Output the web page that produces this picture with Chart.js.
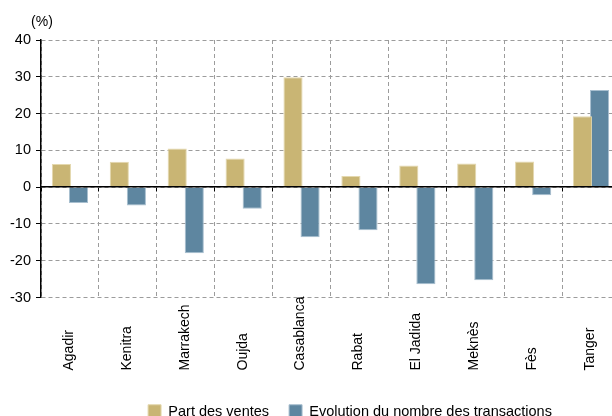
<!DOCTYPE html>
<html>
<head>
<meta charset="utf-8">
<script src="https://cdn.jsdelivr.net/npm/chart.js@4/dist/chart.umd.min.js"></script>
<style>
  html, body { margin: 0; padding: 0; background: #fff; overflow: hidden; }
</style>
</head>
<body>
<canvas id="chart" width="620" height="416"></canvas>
<script>
const cities = ['Agadir', 'Kenitra', 'Marrakech', 'Oujda', 'Casablanca', 'Rabat', 'El Jadida', 'Meknès', 'Fès', 'Tanger'];
const partVentes = [6.3, 6.9, 10.5, 7.8, 29.9, 3.0, 5.9, 6.4, 7.0, 19.3];
const evolTransactions = [-4.3, -5.0, -18.0, -5.9, -13.6, -11.7, -26.4, -25.3, -2.2, 26.4];
const yMin = -30;
const yMax = 40;
const yStep = 10;
const unitLabel = '(%)';

Chart.defaults.font.family = '"Liberation Sans", Arial, sans-serif';
Chart.defaults.font.size = 14;
Chart.defaults.color = '#000';

// city names drawn upright from the bottom, plus the (%) unit
const labelsPlugin = {
  id: 'cityLabels',
  afterLayout(chart) {
    chart.legend.left += 40;
    chart.legend.right += 40;
  },
  afterDraw(chart) {
    const ctx = chart.ctx;
    const xScale = chart.scales.x;
    const yScale = chart.scales.y;
    ctx.save();
    ctx.font = '14px "Liberation Sans", Arial, sans-serif';
    ctx.fillStyle = '#000';
    cities.forEach((name, i) => {
      const x = xScale.getPixelForValue(i);
      ctx.save();
      ctx.translate(x - 1, yScale.bottom + 73);
      ctx.rotate(-Math.PI / 2);
      ctx.textAlign = 'left';
      ctx.textBaseline = 'middle';
      ctx.fillText(name, 0, 0);
      ctx.restore();
    });
    ctx.textAlign = 'center';
    ctx.textBaseline = 'middle';
    ctx.fillText(unitLabel, yScale.right + 1, yScale.top - 18);
    ctx.restore();
  }
};

new Chart(document.getElementById('chart'), {
  type: 'bar',
  data: {
    labels: cities,
    datasets: [
      {
        label: 'Part des ventes',
        data: partVentes,
        backgroundColor: '#C9B574',
        borderColor: '#E4D8AE',
        borderWidth: 1,
        categoryPercentage: 0.59,
        barPercentage: 1.12
      },
      {
        label: 'Evolution du nombre des transactions',
        data: evolTransactions,
        backgroundColor: '#5E86A0',
        borderColor: '#A8BFCF',
        borderWidth: 1,
        categoryPercentage: 0.59,
        barPercentage: 1.12
      }
    ]
  },
  options: {
    responsive: false,
    animation: false,
    layout: {
      padding: { top: 40, left: 0, right: 0, bottom: -13 }
    },
    plugins: {
      legend: {
        position: 'bottom',
        labels: {
          boxWidth: 13,
          boxHeight: 14,
          padding: 20,
          font: { size: 14.5 }
        }
      },
      tooltip: { enabled: false }
    },
    scales: {
      x: {
        offset: true,
        grid: {
          offset: true,
          color: '#9C9C9C',
          drawTicks: false
        },
        border: { display: false, dash: [4, 3] },
        ticks: { display: false },
        afterFit: scale => { scale.height = 87; }
      },
      x2: {
        type: 'category',
        position: { y: 0 },
        offset: true,
        grid: {
          offset: true,
          drawOnChartArea: false,
          drawTicks: true,
          tickLength: 4,
          tickColor: '#000'
        },
        border: { display: true, color: '#000', width: 1.5, z: 1 },
        ticks: { display: false }
      },
      y: {
        min: yMin,
        max: yMax,
        ticks: {
          stepSize: yStep,
          padding: 5,
          font: { size: 14.5 }
        },
        grid: {
          color: '#9C9C9C',
          tickColor: '#000',
          tickLength: 5,
          tickBorderDash: []
        },
        border: { display: true, color: '#000', width: 1.5, dash: [4, 3], z: 1 },
        afterFit: scale => { scale.width = 41; }
      }
    }
  },
  plugins: [labelsPlugin]
});
</script>
</body>
</html>
